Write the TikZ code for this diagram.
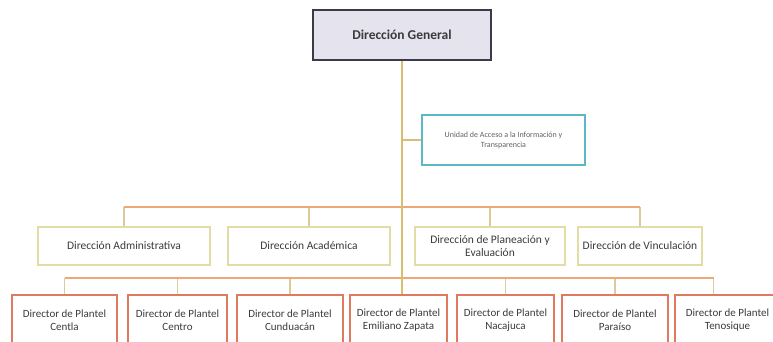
\documentclass[tikz,border=0pt]{standalone}
\usepackage{fontspec}
\setmainfont{Carlito}
\definecolor{genfill}{HTML}{E4E3EE}
\definecolor{genline}{HTML}{3A3A4A}
\definecolor{uniline}{HTML}{5BB8C8}
\definecolor{dirline}{HTML}{E2DCA6}
\definecolor{plaline}{HTML}{E07A5F}
\definecolor{busline}{HTML}{EDA878}
\definecolor{dropline}{HTML}{DCCB98}
\definecolor{mainline}{HTML}{D9BE72}
\definecolor{txt}{HTML}{3A3A3A}
\begin{document}
\begin{tikzpicture}[x=1pt,y=-1pt,
gen/.style={draw=genline,fill=genfill,line width=1.6pt,minimum width=178pt,minimum height=50pt,inner sep=0pt,text=txt,font=\bfseries\fontsize{13.5}{15}\selectfont},
uni/.style={draw=uniline,line width=1.2pt,minimum width=163pt,minimum height=50pt,inner sep=0pt,align=center,text=txt!80,font=\fontsize{8}{10}\selectfont},
dir/.style={draw=dirline,line width=1.5pt,minimum height=38pt,inner sep=0pt,align=center,text=txt,font=\fontsize{11.5}{13}\selectfont},
pla/.style={draw=plaline,line width=1.4pt,minimum height=50pt,inner sep=0pt,align=center,text=txt,font=\fontsize{11}{13}\selectfont},
bus/.style={draw=busline,line width=2pt},
drop/.style={draw=dropline,line width=1.4pt}]
\useasboundingbox (0,0) rectangle (773,341);
\node[gen] (gen) at (402,35) {Dirección General};
\node[uni] (uni) at (503.5,140) {Unidad de Acceso a la Información y\\Transparencia};
\node[dir,minimum width=172pt] (adm) at (124,246) {Dirección Administrativa};
\node[dir,minimum width=162pt] (aca) at (309,246) {Dirección Académica};
\node[dir,minimum width=150pt] (pla) at (490,246) {Dirección de Planeación y\\Evaluación};
\node[dir,minimum width=124pt] (vin) at (640,246) {Dirección de Vinculación};
\node[pla,minimum width=105pt] (cen) at (64.5,320) {Director de Plantel\\Centla};
\node[pla,minimum width=99pt] (cto) at (177.5,320) {Director de Plantel\\Centro};
\node[pla,minimum width=106pt] (cun) at (290,320) {Director de Plantel\\Cunduacán};
\node[pla,minimum width=97pt] (zap) at (398.5,320) {Director de Plantel\\Emiliano Zapata};
\node[pla,minimum width=97pt] (nac) at (505.5,320) {Director de Plantel\\Nacajuca};
\node[pla,minimum width=106pt] (par) at (615,320) {Director de Plantel\\Paraíso};
\node[pla,minimum width=105pt] (ten) at (727.5,320) {Director de Plantel\\Tenosique};
\coordinate (b1) at (0,207);
\coordinate (b2) at (0,278);
\coordinate (tn) at ([xshift=-14pt]ten.north);
\draw[drop] (adm.north) -- (adm.north |- b1);
\draw[drop] (aca.north) -- (aca.north |- b1);
\draw[drop] (pla.north) -- (pla.north |- b1);
\draw[drop] (vin.north) -- (vin.north |- b1);
\foreach \n in {cen,cto,cun,nac,par}
  \draw[drop] (\n.north) -- (\n.north |- b2);
\draw[drop] (tn) -- (tn |- b2);
\draw[bus] (adm.north |- b1) -- (vin.north |- b1);
\draw[bus] (cen.north |- b2) -- (tn |- b2);
\draw[draw=mainline,line width=1.6pt] (gen.south) -- (gen.south |- zap.north);
\draw[draw=mainline,line width=1.6pt] (gen.south |- uni.west) -- (uni.west);
\end{tikzpicture}
\end{document}
